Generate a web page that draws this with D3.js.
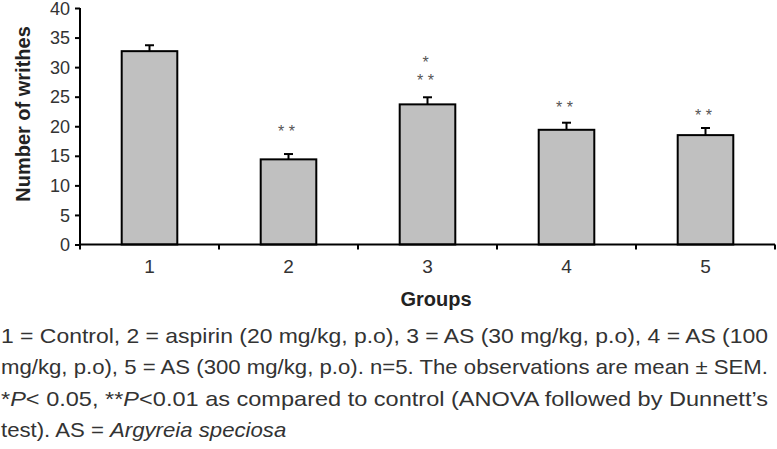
<!DOCTYPE html>
<html>
<head>
<meta charset="utf-8">
<script src="https://cdn.jsdelivr.net/npm/d3@7"></script>
<style>
  html, body { margin: 0; padding: 0; background: #fff; }
  svg { display: block; font-family: "Liberation Sans", Arial, sans-serif; }
</style>
</head>
<body>
<div id="chart"></div>
<script>
// data
var groups = ['1', '2', '3', '4', '5']
var means = [32.7, 14.4, 23.7, 19.4, 18.5]
var sems = [1.0, 0.9, 1.2, 1.2, 1.2]
var yTicks = [0, 5, 10, 15, 20, 25, 30, 35, 40]
// significance marks: group, lines of stars, height of bottom line (writhes units)
var sigGroups = ['2', '3', '4', '5']
var sigLabels = [['* *'], ['*', '* *'], ['* *'], ['* *']]
var sigLevels = [19.7, 28.3, 23.7, 22.4]

var captionLines = [
  [{t: '1 = Control, 2 = aspirin (20 mg/kg, p.o), 3 = AS (30 mg/kg, p.o), 4 = AS (100'}],
  [{t: 'mg/kg, p.o), 5 = AS (300 mg/kg, p.o). n=5. The observations are mean \u00b1 SEM.'}],
  [{t: '*'}, {t: 'P', i: true}, {t: '< 0.05, **'}, {t: 'P', i: true}, {t: '<0.01 as compared to control (ANOVA followed by Dunnett\u2019s'}],
  [{t: 'test). AS = '}, {t: 'Argyreia speciosa', i: true}]
]

var W = 777, H = 449
var svg = d3.select('#chart').append('svg')
  .attr('width', W)
  .attr('height', H)

var x = d3.scaleBand()
  .domain(groups)
  .range([80, 775])
  .paddingInner(0.6)
  .paddingOuter(0.3)

var y = d3.scaleLinear()
  .domain([0, 40])
  .range([244.5, 8])

var half = (x.step() - x.bandwidth()) / 2

// bars
svg.append('g').selectAll('rect')
  .data(means)
  .enter()
  .append('rect')
  .attr('x', (d, i) => x(groups[i]))
  .attr('y', d => y(d))
  .attr('width', x.bandwidth())
  .attr('height', d => y(0) - y(d))
  .attr('fill', '#c0c0c0')
  .attr('stroke', '#000')
  .attr('stroke-width', 2)

// error bars (upper only)
var err = svg.append('g')
  .attr('stroke', '#000')
  .attr('stroke-width', 2)
means.forEach(function(m, i) {
  var cx = x(groups[i]) + x.bandwidth() / 2
  err.append('line')
    .attr('x1', cx).attr('x2', cx)
    .attr('y1', y(m)).attr('y2', y(m + sems[i]))
  err.append('line')
    .attr('x1', cx - 4.5).attr('x2', cx + 4.5)
    .attr('y1', y(m + sems[i])).attr('y2', y(m + sems[i]))
})

// y axis
var yAxis = d3.axisLeft(y)
  .tickValues(yTicks)
  .tickSize(5)
  .tickPadding(5)
svg.append('g')
  .attr('transform', 'translate(80,0)')
  .call(yAxis)
  .call(g => {
    g.select('.domain').attr('stroke-width', 2).attr('d', 'M0,' + y(40) + 'V' + y(0))
    g.selectAll('.tick line').attr('stroke-width', 2)
    g.selectAll('.tick text')
      .attr('fill', '#333')
      .attr('font-size', '18px')
      .attr('dy', '0.34em')
      .attr('font-family', '"Liberation Sans", Arial, sans-serif')
  })

// x axis
var xAxis = d3.axisBottom(x).tickSize(0).tickPadding(15)
svg.append('g')
  .attr('transform', 'translate(0,' + y(0) + ')')
  .call(xAxis)
  .call(g => {
    g.select('.domain').attr('stroke-width', 2).attr('d', 'M80,0H775')
    g.selectAll('.tick text')
      .attr('fill', '#333')
      .attr('font-size', '19px')
      .attr('font-family', '"Liberation Sans", Arial, sans-serif')
  })
// category boundary ticks
var bounds = groups.map(g => x(g) - half).concat([x(groups[4]) + x.bandwidth() + half])
svg.append('g').selectAll('line')
  .data(bounds)
  .enter()
  .append('line')
  .attr('x1', d => d).attr('x2', d => d)
  .attr('y1', y(0)).attr('y2', y(0) + 5)
  .attr('stroke', '#000')
  .attr('stroke-width', 2)

// significance stars (stacked lines go upward)
var starGap = 18
svg.append('g').selectAll('text')
  .data(sigLabels.flatMap((lines, i) => lines.map((s, k) => ({
    s: s, g: sigGroups[i], lvl: sigLevels[i], up: lines.length - 1 - k
  }))))
  .enter()
  .append('text')
  .attr('x', d => x(d.g) + x.bandwidth() / 2 - 2)
  .attr('y', d => y(d.lvl) + 9 - d.up * starGap)
  .attr('text-anchor', 'middle')
  .attr('font-size', '16px')
  .attr('fill', '#555')
  .attr('xml:space', 'preserve')
  .text(d => d.s)

// axis titles
svg.append('text')
  .attr('transform', 'translate(30,114) rotate(-90)')
  .attr('text-anchor', 'middle')
  .attr('font-size', '20px')
  .attr('font-weight', 'bold')
  .attr('fill', '#222')
  .text('Number of writhes')

svg.append('text')
  .attr('x', 436)
  .attr('y', 306)
  .attr('text-anchor', 'middle')
  .attr('font-size', '20px')
  .attr('font-weight', 'bold')
  .attr('fill', '#222')
  .text('Groups')

// caption
var baselines = [343, 374, 406, 437]
var ratio = 1
captionLines.forEach(function(parts, li) {
  var t = svg.append('text')
    .attr('x', 1)
    .attr('y', baselines[li])
    .attr('font-size', '21px')
    .attr('fill', '#333')
  parts.forEach(function(p) {
    t.append('tspan')
      .attr('font-style', p.i ? 'italic' : 'normal')
      .text(p.t)
  })
  var natural = t.node().getComputedTextLength()
  if (li < 3) {
    t.attr('textLength', 767).attr('lengthAdjust', 'spacingAndGlyphs')
    if (li === 1) ratio = 767 / natural
  } else {
    t.attr('textLength', natural * ratio).attr('lengthAdjust', 'spacingAndGlyphs')
  }
})
</script>
</body>
</html>
